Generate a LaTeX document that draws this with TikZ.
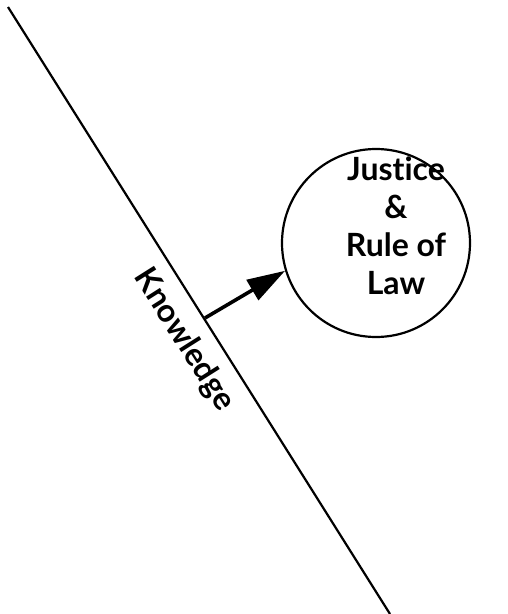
\documentclass[tikz,border=0pt]{standalone}
\usepackage{fontspec}
\setmainfont{Lato}[Ligatures={NoCommon}]
\usetikzlibrary{arrows.meta}
\begin{document}
\begin{tikzpicture}[x=1pt,y=-1pt, line width=2.2pt,
  lbl/.style={font=\bfseries\fontsize{32}{38}\selectfont, inner sep=0pt}]
\useasboundingbox (0,0) rectangle (508,614);
\coordinate (top) at (8,7);
\coordinate (bot) at (390,614);
\draw (top) -- (bot);
\node[circle, draw, minimum size=188pt, inner sep=0pt] (c) at (376,243) {};
\node[lbl, align=center, anchor=north] (t) at (396,156) {Justice\\\&\\Rule of\\Law};
\node[lbl, rotate=-57.7] (kn) at (184,340) {Knowledge};
\coordinate (k) at (205,318);
\draw[line width=3.6pt, -{Triangle[length=38pt,width=23pt]}] (k) -- (c.197);
\end{tikzpicture}
\end{document}
